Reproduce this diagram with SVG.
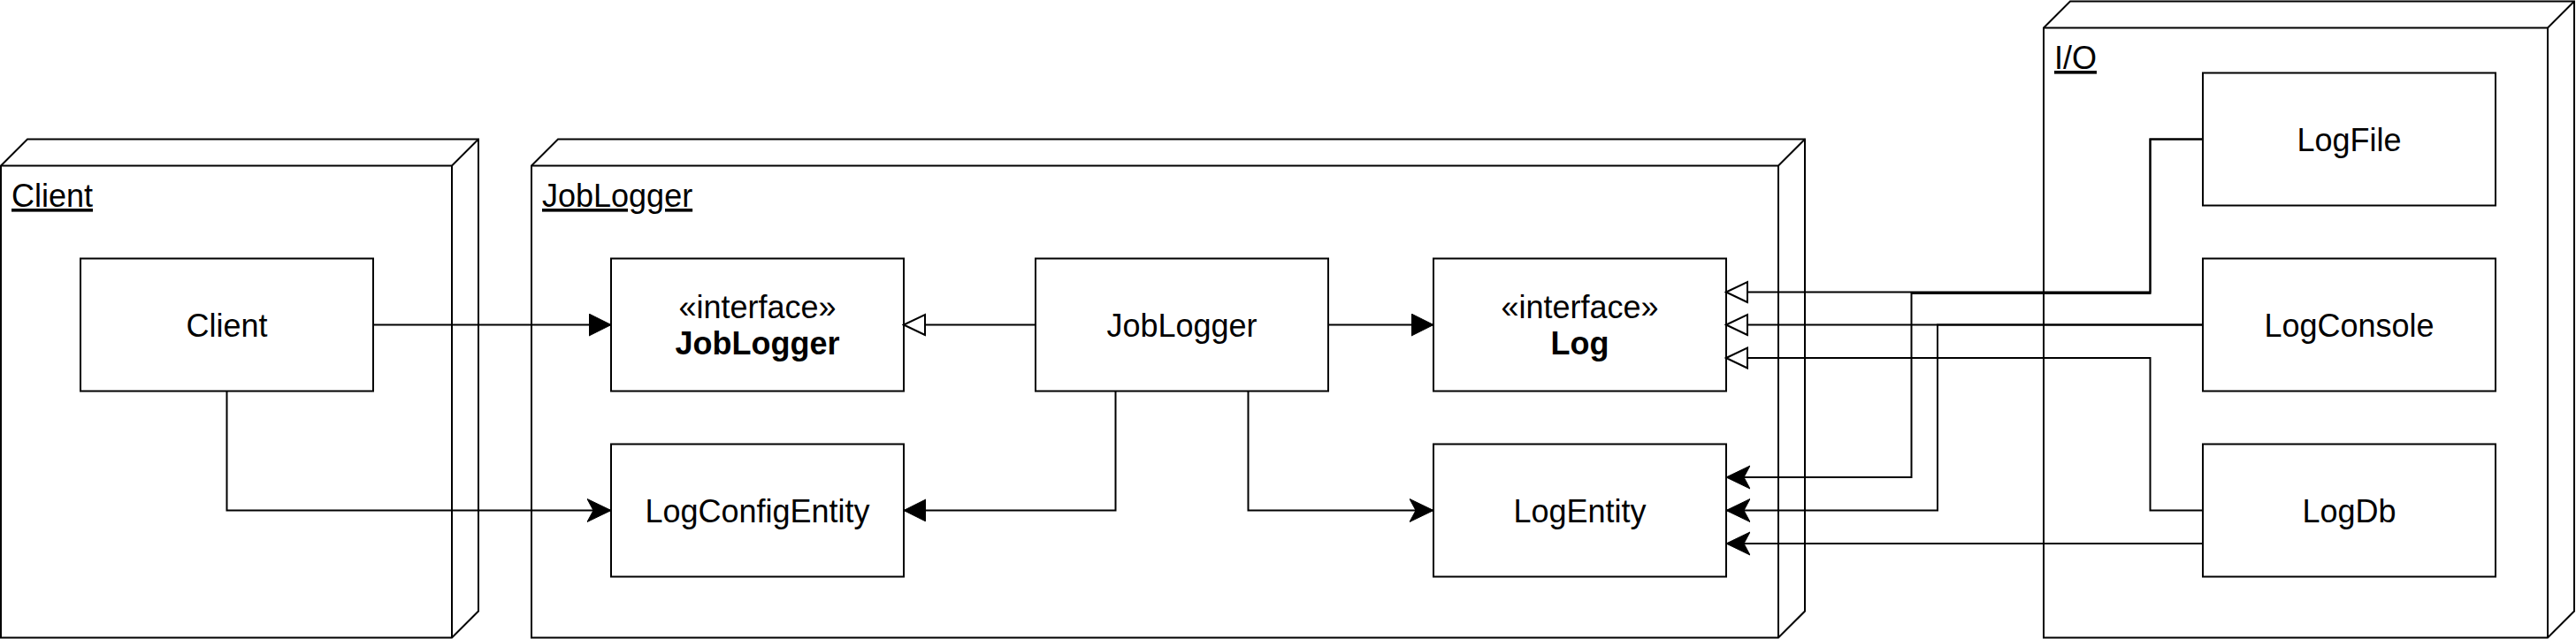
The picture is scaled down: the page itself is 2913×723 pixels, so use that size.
<svg xmlns="http://www.w3.org/2000/svg" width="2913" height="723" viewBox="0 0 2913 723">
<style>
.shape{fill:#fff;stroke:#000;stroke-width:2}
.edge{fill:none;stroke:#000;stroke-width:2}
text{font-family:"Liberation Sans",Arial,sans-serif;font-size:36px;fill:#000}
.c{text-anchor:middle}
.b{font-weight:bold}
.u{text-decoration:underline}
</style>
<defs>
<marker id="block" markerUnits="userSpaceOnUse" markerWidth="27" markerHeight="27" refX="25" refY="12.5" orient="auto" viewBox="0 0 27 27">
<path d="M0,0 L25,12.5 L0,25 Z" fill="#000" stroke="#000" stroke-width="1"/>
</marker>
<marker id="hollow" markerUnits="userSpaceOnUse" markerWidth="28" markerHeight="28" refX="26" refY="13" orient="auto" viewBox="0 0 28 28">
<path d="M2,1.5 L26,13 L2,24.5 Z" fill="#fff" stroke="#000" stroke-width="2"/>
</marker>
<marker id="classic" markerUnits="userSpaceOnUse" markerWidth="28" markerHeight="28" refX="27" refY="13.5" orient="auto" viewBox="0 0 28 28">
<path d="M0,0.5 L27,13.5 L0,26.5 L7,13.5 Z" fill="#000" stroke="#000" stroke-width="1"/>
</marker>
</defs>

<g id="node-client">
<path class="shape" d="M1,187.5 L31,157.5 L541,157.5 L541,691.5 L511,721.5 L1,721.5 Z"/>
<path class="edge" d="M1,187.5 L511,187.5 L541,157.5 M511,187.5 L511,721.5"/>
<text class="u" x="13" y="234">Client</text>
</g>
<g id="node-joblogger">
<path class="shape" d="M601,187.5 L631,157.5 L2041,157.5 L2041,691.5 L2011,721.5 L601,721.5 Z"/>
<path class="edge" d="M601,187.5 L2011,187.5 L2041,157.5 M2011,187.5 L2011,721.5"/>
<text class="u" x="613" y="234">JobLogger</text>
</g>
<g id="node-io">
<path class="shape" d="M2311,31.5 L2341,1.5 L2911,1.5 L2911,691.5 L2881,721.5 L2311,721.5 Z"/>
<path class="edge" d="M2311,31.5 L2881,31.5 L2911,1.5 M2881,31.5 L2881,721.5"/>
<text class="u" x="2323" y="78">I/O</text>
</g>

<g id="client">
<rect class="shape" x="91" y="292.5" width="331" height="150"/>
<text class="c" x="256.5" y="380.5">Client</text>
</g>
<g id="ijoblogger">
<rect class="shape" x="691" y="292.5" width="331" height="150"/>
<text class="c" x="856.5" y="359.5">«interface»</text>
<text class="c b" x="856.5" y="401">JobLogger</text>
</g>
<g id="logconfigentity">
<rect class="shape" x="691" y="502.5" width="331" height="150"/>
<text class="c" x="856.5" y="590.5">LogConfigEntity</text>
</g>
<g id="joblogger">
<rect class="shape" x="1171" y="292.5" width="331" height="150"/>
<text class="c" x="1336.5" y="380.5">JobLogger</text>
</g>
<g id="ilog">
<rect class="shape" x="1621" y="292.5" width="331" height="150"/>
<text class="c" x="1786.5" y="359.5">«interface»</text>
<text class="c b" x="1786.5" y="401">Log</text>
</g>
<g id="logentity">
<rect class="shape" x="1621" y="502.5" width="331" height="150"/>
<text class="c" x="1786.5" y="590.5">LogEntity</text>
</g>
<g id="logfile">
<rect class="shape" x="2491" y="82.5" width="331" height="150"/>
<text class="c" x="2656.5" y="170.5">LogFile</text>
</g>
<g id="logconsole">
<rect class="shape" x="2491" y="292.5" width="331" height="150"/>
<text class="c" x="2656.5" y="380.5">LogConsole</text>
</g>
<g id="logdb">
<rect class="shape" x="2491" y="502.5" width="331" height="150"/>
<text class="c" x="2656.5" y="590.5">LogDb</text>
</g>

<g id="connectors">
<path class="edge" d="M422,367.5 L691,367.5" marker-end="url(#block)"/>
<path class="edge" d="M256.5,442.5 L256.5,577.5 L691,577.5" marker-end="url(#classic)"/>
<path class="edge" d="M1171,367.5 L1022,367.5" marker-end="url(#hollow)"/>
<path class="edge" d="M1261.5,442.5 L1261.5,577.5 L1022,577.5" marker-end="url(#block)"/>
<path class="edge" d="M1502,367.5 L1621,367.5" marker-end="url(#block)"/>
<path class="edge" d="M1411.5,442.5 L1411.5,577.5 L1621,577.5" marker-end="url(#classic)"/>
<path class="edge" d="M2491,157.5 L2431.5,157.5 L2431.5,330.5 L1952,330.5" marker-end="url(#hollow)"/>
<path class="edge" d="M2491,157.5 L2431.5,157.5 L2431.5,332 L2161.5,332 L2161.5,540 L1952,540" marker-end="url(#classic)"/>
<path class="edge" d="M2491,367.5 L1952,367.5" marker-end="url(#hollow)"/>
<path class="edge" d="M2491,367.5 L2191,367.5 L2191,577.5 L1952,577.5" marker-end="url(#classic)"/>
<path class="edge" d="M2491,577.5 L2431.5,577.5 L2431.5,405 L1952,405" marker-end="url(#hollow)"/>
<path class="edge" d="M2491,615 L1952,615" marker-end="url(#classic)"/>
</g>
</svg>
